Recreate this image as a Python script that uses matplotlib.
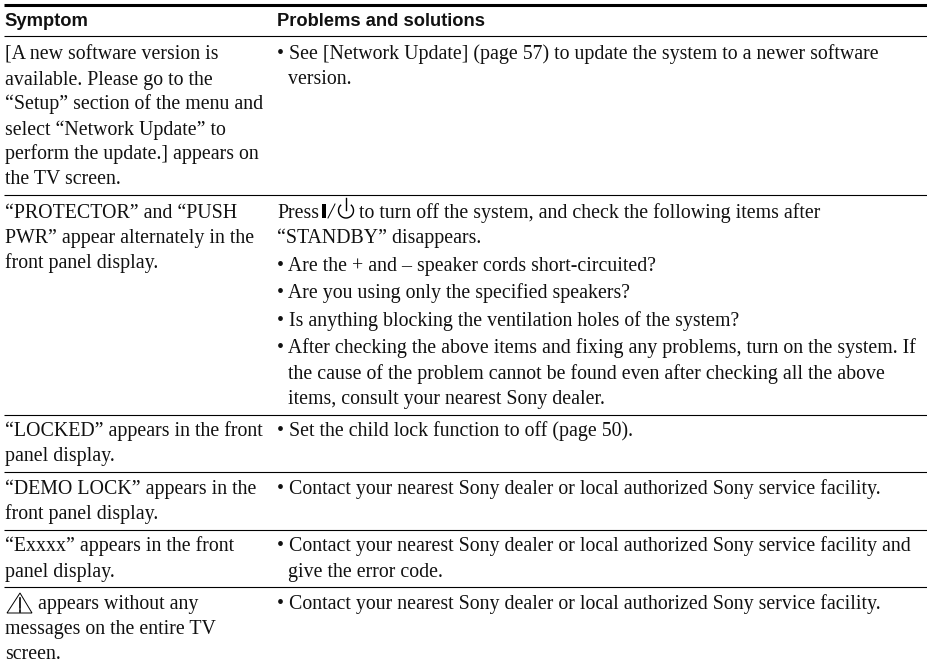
import matplotlib
matplotlib.use("Agg")
import matplotlib.pyplot as plt
from matplotlib.patches import Arc, Polygon, Rectangle

W, H = 927, 667

# table content, one list of lines per row
header = ["Symptom", "Problems and solutions"]
symptoms = [
    ["[A new software version is", "available. Please go to the", "\u201cSetup\u201d section of the menu and",
     "select \u201cNetwork Update\u201d to", "perform the update.] appears on", "the TV screen."],
    ["\u201cPROTECTOR\u201d and \u201cPUSH", "PWR\u201d appear alternately in the", "front panel display."],
    ["\u201cLOCKED\u201d appears in the front", "panel display."],
    ["\u201cDEMO LOCK\u201d appears in the", "front panel display."],
    ["\u201cExxxx\u201d appears in the front", "panel display."],
    ["appears without any", "messages on the entire TV", "screen."],
]
solutions = [
    ["\u2022 See [Network Update] (page 57) to update the system to a newer software", "version."],
    ["to turn off the system, and check the following items after", "\u201cSTANDBY\u201d disappears.",
     "\u2022 Are the + and \u2013 speaker cords short-circuited?",
     "\u2022 Are you using only the specified speakers?",
     "\u2022 Is anything blocking the ventilation holes of the system?",
     "\u2022 After checking the above items and fixing any problems, turn on the system. If",
     "the cause of the problem cannot be found even after checking all the above",
     "items, consult your nearest Sony dealer."],
    ["\u2022 Set the child lock function to off (page 50)."],
    ["\u2022 Contact your nearest Sony dealer or local authorized Sony service facility."],
    ["\u2022 Contact your nearest Sony dealer or local authorized Sony service facility and", "give the error code."],
    ["\u2022 Contact your nearest Sony dealer or local authorized Sony service facility."],
]
rules = [36, 195, 415, 472, 530, 587]
symptom_y = [59.5, 218, 436, 494, 551.5, 609]
solution_y = [[59.5, 84.5], [218, 243, 270.5, 298, 326, 353.5, 379, 404], [436], [494], [551.5, 577], [609]]

fig = plt.figure(figsize=(W / 100, H / 100), dpi=100)
ax = fig.add_axes([0, 0, 1, 1])
ax.set_xlim(0, W)
ax.set_ylim(H, 0)
ax.axis("off")

body = dict(family="Liberation Serif", fontsize=14.3, va="baseline", color="#111111")
head = dict(family="Liberation Sans", weight="bold", fontsize=13.2, va="baseline", color="#111111")

ax.plot([4, W], [5, 5], color="black", lw=2.2, solid_capstyle="butt")
for y in rules:
    ax.plot([4, W], [y, y], color="black", lw=0.8, solid_capstyle="butt")

ax.text(4.5, 25.5, header[0], **head)
ax.text(277, 25.5, header[1], **head)

for top, lines in zip(symptom_y, symptoms):
    for i, line in enumerate(lines):
        x = 38 if line.startswith("appears") else 5
        ax.text(x, top + i * 25, line, **body)

for ys, lines in zip(solution_y, solutions):
    for y, line in zip(ys, lines):
        if line.startswith("to turn"):
            x = 359
        elif line.startswith(("\u2022", "\u201c")):
            x = 277
        else:
            x = 288
        ax.text(x, y, line, **body)
ax.text(277, 218, "Press", **body)

# power symbol
ax.add_patch(Rectangle((322, 204), 4.5, 13.5, color="black", lw=0))
ax.plot([328, 335], [218, 204], color="black", lw=0.7)
ax.add_patch(Arc((346, 210.5), 15, 15, theta1=-50, theta2=230, color="black", lw=1))
ax.plot([346, 346], [198, 210], color="black", lw=1)

# warning triangle
ax.add_patch(Polygon([[7, 613], [32, 613], [20, 593]], closed=True, fill=False, ec="black", lw=0.7))
ax.plot([20, 20], [598, 608], color="black", lw=1.2)
ax.plot([20, 20], [610, 612], color="black", lw=1.2)

fig.savefig("out.png", dpi=100)
